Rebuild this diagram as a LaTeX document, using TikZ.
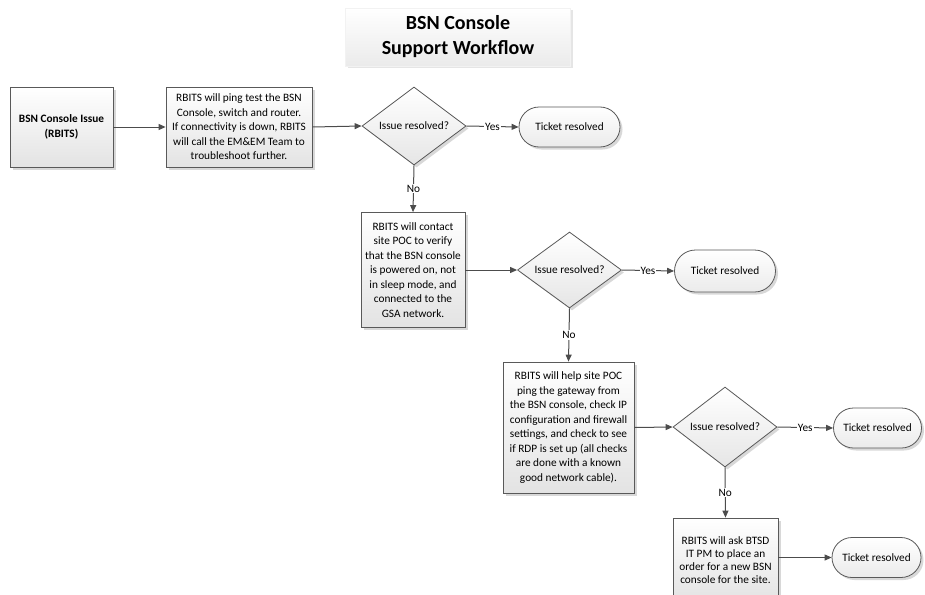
\documentclass[tikz,border=0pt]{standalone}
\usepackage{fontspec}
\setmainfont{Carlito}
\usetikzlibrary{shapes.geometric,shapes.misc,shadows,arrows.meta}

\begin{document}
\begin{tikzpicture}[x=1pt,y=-1pt,
  font=\fontsize{11.3}{14.5}\selectfont,
  lightshadow/.style={drop shadow={shadow xshift=2.5pt,shadow yshift=-2.5pt,fill=black!30,opacity=0.5}},
  stepbox/.style={draw=black!65,line width=0.8pt,top color=white,bottom color=black!11,
    lightshadow,align=center,inner sep=1pt},
  decision/.style={diamond,draw=black!65,line width=0.8pt,top color=white,bottom color=black!10,
    lightshadow,inner sep=0pt,aspect=1.33,minimum width=104pt,minimum height=78pt},
  terminal/.style={rounded rectangle,draw=black!65,line width=0.8pt,top color=white,bottom color=black!8,
    lightshadow,minimum width=105pt,minimum height=40pt,inner sep=2pt},
  flow/.style={draw=black!70,line width=1pt,-{Triangle[length=7pt,width=6pt]}},
  lbl/.style={fill=white,inner sep=1pt}]

\useasboundingbox (0,0) rectangle (925,594);

% title
\node[top color=white,bottom color=black!8,draw=black!5,
  drop shadow={shadow xshift=2pt,shadow yshift=-2pt,fill=black!20,opacity=0.5},
  minimum width=225pt,minimum height=58pt,align=center,
  font=\fontsize{20}{25}\selectfont\bfseries] (title) at (458,37)
  {BSN Console\\Support Workflow};

% first row
\node[stepbox,minimum width=103pt,minimum height=80pt,font=\fontsize{11.3}{14.5}\selectfont\bfseries]
  (issue) at (61.5,127) {BSN Console Issue\\(RBITS)};
\node[stepbox,minimum width=146pt,minimum height=80pt] (ping) at (239,127)
  {RBITS will ping test the BSN\\Console, switch and router.\\If connectivity is down, RBITS\\will call the EM\&EM Team to\\troubleshoot further.};
\node[decision] (d1) at (414,126) {Issue resolved?};
\node[terminal] (t1) at (569.5,127) {Ticket resolved};

% second row
\node[stepbox,minimum width=104pt,minimum height=115pt] (contact) at (413,270)
  {RBITS will contact\\site POC to verify\\that the BSN console\\is powered on, not\\in sleep mode, and\\connected to the\\GSA network.};
\node[decision,minimum height=76pt] (d2) at (569.5,270) {Issue resolved?};
\node[terminal,minimum height=42pt] (t2) at (725,271) {Ticket resolved};

% third row
\node[stepbox,minimum width=131pt,minimum height=131pt] (help) at (568.5,427.5)
  {RBITS will help site POC\\ping the gateway from\\the BSN console, check IP\\configuration and firewall\\settings, and check to see\\if RDP is set up (all checks\\are done with a known\\good network cable).};
\node[decision,minimum height=80pt] (d3) at (725,427) {Issue resolved?};
\node[terminal,minimum width=92pt] (t3) at (877.5,428) {Ticket resolved};

% fourth row
\node[stepbox,minimum width=105pt,minimum height=84pt,font=\fontsize{11.3}{13}\selectfont] (order) at (725.5,560)
  {RBITS will ask BTSD\\IT PM to place an\\order for a new BSN\\console for the site.};
\node[terminal,minimum width=93pt] (t4) at (876.5,557.5) {Ticket resolved};

% connectors
\draw[flow] (issue.east) -- (ping.west);
\draw[flow] (ping.east) -- (d1.west);
\draw[flow] (d1.east) -- node[lbl] {Yes} (t1.west);
\draw[flow] (d1.south) -- node[lbl] {No} (contact.north);
\draw[flow] (contact.east) -- (d2.west);
\draw[flow] (d2.east) -- node[lbl] {Yes} (t2.west);
\draw[flow] (d2.south) -- node[lbl] {No} (help.north);
\draw[flow] (help.east) -- (d3.west);
\draw[flow] (d3.east) -- node[lbl] {Yes} (t3.west);
\draw[flow] (d3.south) -- node[lbl] {No} (order.north);
\draw[flow] (order.east |- t4.west) -- (t4.west);

\end{tikzpicture}
\end{document}
